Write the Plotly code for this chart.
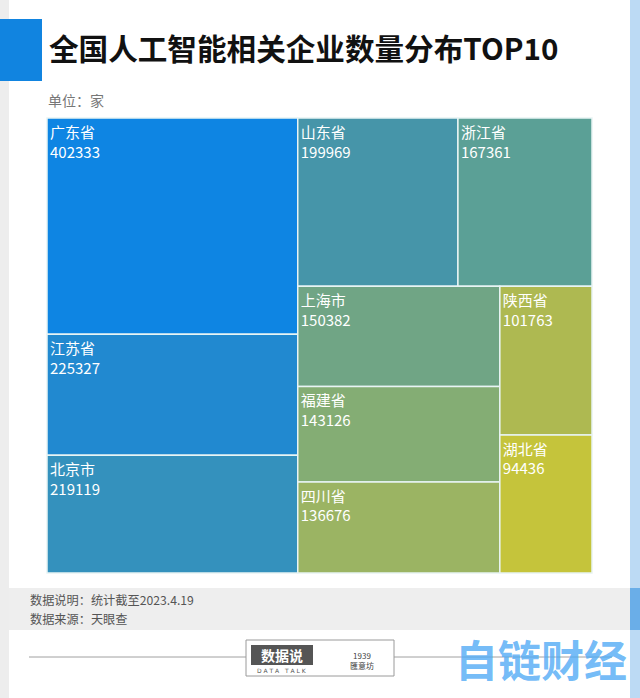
import plotly.graph_objects as go

W, H = 640, 698

provinces = ["广东省", "江苏省", "北京市", "山东省", "浙江省", "上海市", "福建省", "四川省", "陕西省", "湖北省"]
counts = [402333, 225327, 219119, 199969, 167361, 150382, 143126, 136676, 101763, 94436]
colors = ["#0e85e3", "#2189d0", "#3491bd", "#4695a9", "#5ba096", "#70a585", "#84ad74", "#9bb463", "#aeb951", "#c5c43b"]

title = "全国人工智能相关企业数量分布TOP10"
unit = "单位：家"
notes = ["数据说明：统计截至2023.4.19", "数据来源：天眼查"]

def px(x):
    return x / W

def py(y):
    return 1 - y / H

fig = go.Figure(go.Treemap(
    labels=provinces,
    parents=[""] * len(provinces),
    values=counts,
    sort=True,
    texttemplate="%{label}<br>%{value:d}",
    textposition="top left",
    textfont=dict(family="Noto Sans CJK SC", size=15, color="white"),
    marker=dict(colors=colors, line=dict(color="#e8f4f4", width=1.5), pad=dict(t=0, l=0, r=0, b=0)),
    tiling=dict(packing="squarify", squarifyratio=1.618034, pad=0),
    pathbar=dict(visible=False),
    hoverinfo="label+value",
    domain=dict(x=[px(47), px(592)], y=[py(573), py(118)]),
))

shapes = [
    dict(type="rect", xref="paper", yref="paper", x0=0, x1=px(9), y0=0, y1=1,
         fillcolor="#ededed", line_width=0, layer="below"),
    dict(type="rect", xref="paper", yref="paper", x0=px(630), x1=1, y0=0, y1=1,
         fillcolor="#bcdaf4", line_width=0, layer="below"),
    dict(type="rect", xref="paper", yref="paper", x0=px(630), x1=1, y0=py(630), y1=py(588),
         fillcolor="#6aaee8", line_width=0, layer="below"),
    dict(type="rect", xref="paper", yref="paper", x0=0, x1=px(42), y0=py(81), y1=py(19),
         fillcolor="#1184e0", line_width=0),
    dict(type="rect", xref="paper", yref="paper", x0=px(9), x1=px(630), y0=py(630), y1=py(588),
         fillcolor="#eeeeee", line_width=0, layer="below"),
    dict(type="line", xref="paper", yref="paper", x0=px(29), x1=px(246), y0=py(657), y1=py(657),
         line=dict(color="#a0a0a0", width=1)),
    dict(type="line", xref="paper", yref="paper", x0=px(394), x1=px(612), y0=py(657), y1=py(657),
         line=dict(color="#a0a0a0", width=1)),
    dict(type="rect", xref="paper", yref="paper", x0=px(246), x1=px(394), y0=py(676), y1=py(640),
         fillcolor="white", line=dict(color="#9a9a9a", width=1)),
    dict(type="rect", xref="paper", yref="paper", x0=px(251), x1=px(313), y0=py(665), y1=py(645),
         fillcolor="#555555", line_width=0),
]

annotations = [
    dict(text="<b>" + title + "</b>", x=px(47), y=py(48), xref="paper", yref="paper",
         xanchor="left", yanchor="middle", showarrow=False,
         font=dict(family="Noto Sans CJK SC", size=29.6, color="#111111")),
    dict(text=unit, x=px(46), y=py(100), xref="paper", yref="paper",
         xanchor="left", yanchor="middle", showarrow=False,
         font=dict(family="Noto Sans CJK SC", size=14, color="#777777")),
    dict(text=notes[0], x=px(28), y=py(599.5), xref="paper", yref="paper",
         xanchor="left", yanchor="middle", showarrow=False,
         font=dict(family="Noto Sans CJK SC", size=12.2, color="#555555")),
    dict(text=notes[1], x=px(28), y=py(618.5), xref="paper", yref="paper",
         xanchor="left", yanchor="middle", showarrow=False,
         font=dict(family="Noto Sans CJK SC", size=12.2, color="#555555")),
    dict(text="<b>数据说</b>", x=px(282), y=py(655), xref="paper", yref="paper",
         xanchor="center", yanchor="middle", showarrow=False,
         font=dict(family="Noto Sans CJK SC", size=14, color="white")),
    dict(text="D A T A   T A L K", x=px(282), y=py(670), xref="paper", yref="paper",
         xanchor="center", yanchor="middle", showarrow=False,
         font=dict(family="DejaVu Sans", size=6, color="#555555")),
    dict(text="1939<br>匯意坊", x=px(362), y=py(660), xref="paper", yref="paper",
         xanchor="center", yanchor="middle", showarrow=False,
         font=dict(family="Noto Sans CJK SC", size=8, color="#444444")),
    dict(text="<b>自链财经</b>", x=px(541), y=py(658), xref="paper", yref="paper",
         xanchor="center", yanchor="middle", showarrow=False,
         font=dict(family="Noto Sans CJK SC", size=43, color="rgba(80,170,245,0.8)")),
]

fig.update_layout(
    width=W, height=H,
    margin=dict(l=0, r=0, t=0, b=0),
    paper_bgcolor="white",
    plot_bgcolor="white",
    shapes=shapes,
    annotations=annotations,
    showlegend=False,
)

fig.write_html("out.html")
